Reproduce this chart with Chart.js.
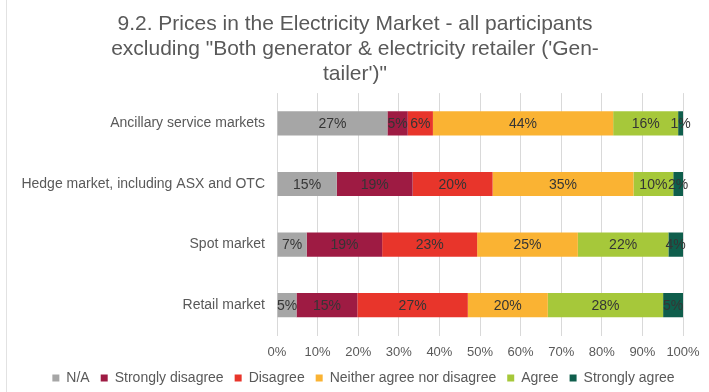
<!DOCTYPE html>
<html>
<head>
<meta charset="utf-8">
<title>Prices in the Electricity Market</title>
<script src="https://cdn.jsdelivr.net/npm/chart.js@4.4.1/dist/chart.umd.min.js"></script>
<style>
  html, body { margin: 0; padding: 0; background: #fff; }
  #wrap { width: 709px; height: 392px; }
</style>
</head>
<body>
<div id="wrap"><canvas id="chart" width="709" height="392"></canvas></div>
<script>
// Survey responses, share of participants per market (%)
const categories = [
  'Ancillary service markets',
  'Hedge market, including ASX and OTC',
  'Spot market',
  'Retail market',
];
const seriesNames = ['N/A', 'Strongly disagree', 'Disagree', 'Neither agree nor disagree', 'Agree', 'Strongly agree'];
const seriesColors = ['#a6a6a6', '#9e1b43', '#e8352b', '#fab333', '#a6c83a', '#0f5e4c'];

const naValues         = [27.2, 14.7,  7.3,  4.8];
const stronglyDisagree = [ 5.0, 18.7, 18.6, 15.0];
const disagree         = [ 6.2, 19.7, 23.4, 27.2];
const neither          = [44.4, 34.7, 24.8, 19.7];
const agree            = [16.0,  9.8, 22.3, 28.4];
const stronglyAgree    = [ 1.2,  2.4,  3.6,  4.9];

const xTicks = [0, 10, 20, 30, 40, 50, 60, 70, 80, 90, 100];

const titleLines = [
  '9.2. Prices in the Electricity Market - all participants',
  'excluding "Both generator & electricity retailer (\'Gen-',
  'tailer\')"',
];

const seriesValues = [naValues, stronglyDisagree, disagree, neither, agree, stronglyAgree];

Chart.defaults.font.family = '"Liberation Sans", Arial, sans-serif';
Chart.defaults.color = '#595959';

// percentage text centred on every segment
const barLabels = {
  id: 'barLabels',
  afterDatasetsDraw(chart) {
    const { ctx } = chart;
    ctx.save();
    ctx.font = '14px "Liberation Sans", Arial, sans-serif';
    ctx.fillStyle = '#353535';
    ctx.textAlign = 'center';
    ctx.textBaseline = 'middle';
    chart.data.datasets.forEach((ds, i) => {
      chart.getDatasetMeta(i).data.forEach((bar, j) => {
        const { x, y } = bar.getCenterPoint();
        ctx.fillText(Math.round(ds.data[j]) + '%', x, y + 1);
      });
    });
    ctx.restore();
  },
};

// thin frame line down the left side
const frameLine = {
  id: 'frameLine',
  beforeDraw(chart) {
    const { ctx, height } = chart;
    ctx.save();
    ctx.strokeStyle = '#e2e2e2';
    ctx.lineWidth = 1;
    ctx.beginPath();
    ctx.moveTo(6.5, 0);
    ctx.lineTo(6.5, height);
    ctx.stroke();
    ctx.restore();
  },
};

// title and legend sit a little right of the canvas centre
const shiftBox = (box, dx) => { if (box) { box.left += dx; box.right += dx; } };
const nudgeBoxes = {
  id: 'nudgeBoxes',
  afterLayout(chart) {
    shiftBox(chart.titleBlock, 13.5);
    shiftBox(chart.legend, 22);
  },
};

new Chart(document.getElementById('chart'), {
  type: 'bar',
  data: {
    labels: categories,
    datasets: seriesNames.map((name, i) => ({
      label: name,
      data: seriesValues[i],
      backgroundColor: seriesColors[i],
      borderWidth: 0,
      categoryPercentage: 0.8,
      barPercentage: 0.5,
    })),
  },
  options: {
    indexAxis: 'y',
    responsive: false,
    animation: false,
    layout: { padding: { top: 0, right: 26, bottom: -3, left: 0 } },
    plugins: {
      title: {
        display: true,
        text: titleLines,
        color: '#595959',
        font: { size: 21, weight: 'normal', lineHeight: 1.2 },
        padding: { top: 11.5, bottom: 6 },
      },
      legend: {
        position: 'bottom',
        labels: {
          boxWidth: 7,
          boxHeight: 7,
          padding: 11,
          color: '#595959',
          font: { size: 14 },
        },
      },
      tooltip: { enabled: false },
    },
    scales: {
      x: {
        stacked: true,
        min: 0,
        max: 100,
        afterBuildTicks: (scale) => { scale.ticks = xTicks.map(v => ({ value: v })); },
        ticks: {
          callback: v => v + '%',
          font: { size: 13 },
          color: '#595959',
          padding: 9,
          maxRotation: 0,
        },
        grid: { color: '#d9d9d9', drawTicks: false },
        border: { display: false },
        afterFit: (scale) => { scale.height = 24.5; },
      },
      y: {
        stacked: true,
        grid: { display: false, drawTicks: false },
        border: { display: false },
        ticks: { font: { size: 14 }, color: '#595959', padding: 12 },
        afterFit: (scale) => { scale.width = 277; },
      },
    },
  },
  plugins: [frameLine, nudgeBoxes, barLabels],
});
</script>
</body>
</html>
